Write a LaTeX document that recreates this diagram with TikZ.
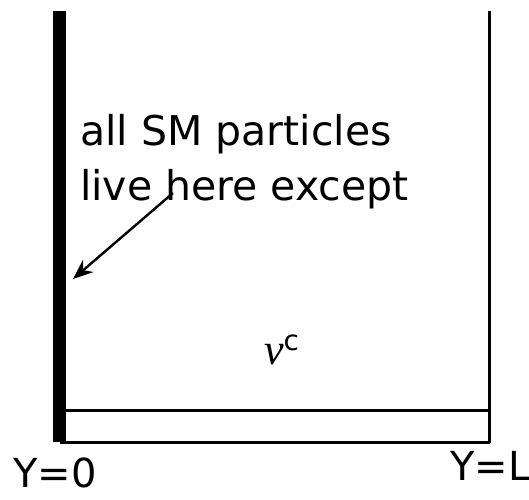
\documentclass[tikz,border=0pt]{standalone}
\usepackage{fontspec}
\setmainfont{DejaVu Sans}
\newfontfamily\greekfont{Liberation Serif}
\usetikzlibrary{arrows.meta}
\begin{document}
\begin{tikzpicture}[x=1pt,y=-1pt,
  wall/.style={line width=3pt},
  lbl/.style={anchor=base west,inner sep=0pt,font=\fontsize{41}{48}\selectfont},
  axl/.style={anchor=base west,inner sep=0pt,font=\fontsize{40}{48}\selectfont}]
\useasboundingbox (0,0) rectangle (529,499);
\coordinate (tl) at (59.5,11);
\coordinate (bl) at (59.5,442);
\coordinate (tr) at (489,11);
\coordinate (br) at (489,442);
\coordinate (ml) at (66,410);
\coordinate (mr) at (489,410);
\draw[line width=13pt] (tl) -- (bl);
\draw[wall,line join=round] (tr) -- (br) -- (59.5,442);
\draw[wall] (ml) -- (mr);
\node[lbl] (t1) at (80,145) {all SM particles};
\node[lbl] (t2) at (80,200) {live here except};
\coordinate (as) at (173,193);
\coordinate (ae) at (73,279);
\draw[line width=2.4pt,-{Stealth[length=20pt,width=16pt]}] (as) -- (ae);
\node[lbl] (nu) at (264,364) {{\greekfont\itshape\fontsize{44}{50}\selectfont ν}\raisebox{14pt}{\fontsize{28}{30}\selectfont c}};
\node[axl] (y0) at (13,487) {Y=0};
\node[axl] (yl) at (450,480) {Y=L};
\end{tikzpicture}
\end{document}
